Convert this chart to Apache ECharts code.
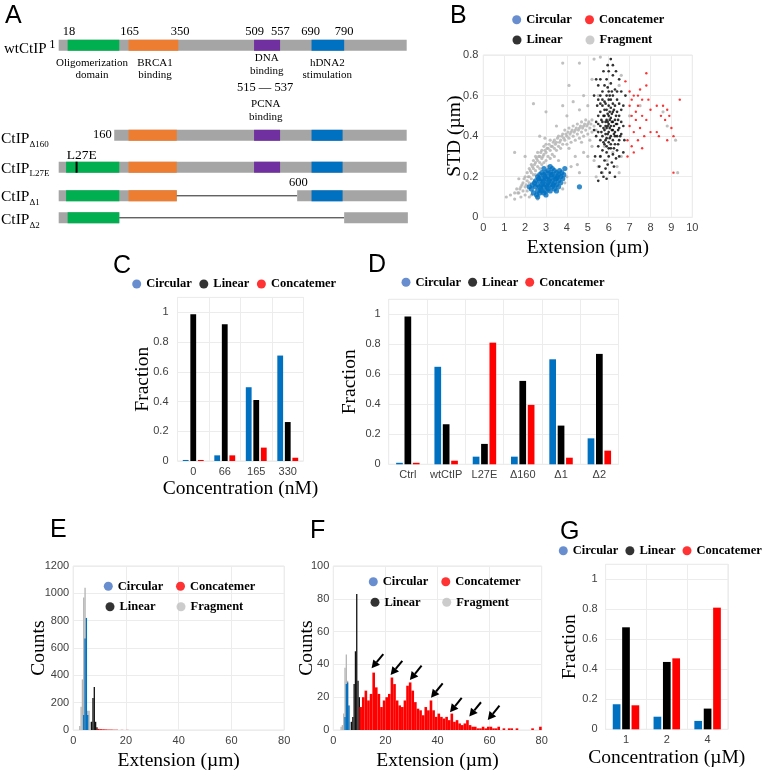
<!DOCTYPE html>
<html><head><meta charset="utf-8">
<script src="https://cdn.jsdelivr.net/npm/echarts@6/dist/echarts.min.js"></script>
<style>html,body{margin:0;padding:0;background:#fff}#c{width:762px;height:773px}</style>
</head><body><div id="c"></div><script>
// ---------- Panel A: domain maps (positions in drawn residue units) ----------
const rowLabels = ['wtCtIP', 'Δ160', 'L27E', 'Δ1', 'Δ2'];
const segWt   = [['gray',1,897],['oligo',24,157],['brca',181,309],['dna',504,571],['hdna',652,736]];
const segD160 = [['gray',144,897],['brca',181,305],['dna',504,571],['hdna',652,732]];
const segL27E = [['gray',1,897],['oligo',20,157],['brca',181,305],['dna',504,571],['hdna',652,732],['mark',47,47]];
const segD1   = [['gray',1,305],['oligo',20,157],['brca',181,305],['line',305,615],['gray',615,897],['hdna',652,732]];
const segD2   = [['gray',1,157],['oligo',24,157],['line',157,736],['gray',736,900]];
const domainNumbers = ['18','165','350','509','557','690','790'];

// ---------- Panel B: scatter (Extension µm, STD µm) ----------
const bCircular = [[2.3,0.14],[2.4,0.12],[2.5,0.15],[2.5,0.18],[2.6,0.13],[2.6,0.16],[2.6,0.2],[2.7,0.12],[2.7,0.15],[2.7,0.18],[2.7,0.21],[2.8,0.13],[2.8,0.16],[2.8,0.19],[2.8,0.22],[2.9,0.12],[2.9,0.15],[2.9,0.18],[2.9,0.21],[3.0,0.13],[3.0,0.16],[3.0,0.19],[3.0,0.22],[3.1,0.14],[3.1,0.17],[3.1,0.2],[3.1,0.23],[3.2,0.13],[3.2,0.16],[3.2,0.19],[3.2,0.22],[3.3,0.15],[3.3,0.18],[3.3,0.21],[3.3,0.24],[3.4,0.14],[3.4,0.17],[3.4,0.2],[3.4,0.23],[3.5,0.16],[3.5,0.19],[3.5,0.22],[3.6,0.15],[3.6,0.18],[3.6,0.21],[3.7,0.17],[3.7,0.2],[3.8,0.19],[2.45,0.17],[2.55,0.11],[2.65,0.19],[2.75,0.14],[2.85,0.17],[2.95,0.2],[3.05,0.15],[3.15,0.18],[3.25,0.21],[3.35,0.16],[3.45,0.19],[3.55,0.2],[3.65,0.23],[2.35,0.16],[3.75,0.22],[3.85,0.21],[2.2,0.15],[3.9,0.24],[2.9,0.24],[3.2,0.25],[2.6,0.1],[3.0,0.11],[3.5,0.13],[4.6,0.15]];
const bFragment = [[1.1,0.1],[1.3,0.11],[1.5,0.12],[1.5,0.09],[1.6,0.14],[1.7,0.12],[1.8,0.15],[1.8,0.1],[1.9,0.17],[1.9,0.13],[2.0,0.2],[2.0,0.15],[2.0,0.11],[2.1,0.18],[2.1,0.22],[2.1,0.13],[2.2,0.2],[2.2,0.24],[2.2,0.17],[2.3,0.22],[2.3,0.26],[2.3,0.19],[2.4,0.24],[2.4,0.28],[2.4,0.21],[2.5,0.23],[2.5,0.27],[2.5,0.3],[2.6,0.25],[2.6,0.28],[2.6,0.32],[2.7,0.24],[2.7,0.27],[2.7,0.3],[2.8,0.26],[2.8,0.29],[2.8,0.33],[2.9,0.27],[2.9,0.31],[2.9,0.35],[3.0,0.28],[3.0,0.32],[3.0,0.36],[3.1,0.3],[3.1,0.34],[3.2,0.29],[3.2,0.33],[3.2,0.38],[3.3,0.31],[3.3,0.35],[3.4,0.3],[3.4,0.34],[3.4,0.38],[3.5,0.33],[3.5,0.37],[3.6,0.35],[3.6,0.4],[3.7,0.34],[3.7,0.38],[3.8,0.36],[3.8,0.41],[3.9,0.38],[3.9,0.43],[4.0,0.36],[4.0,0.4],[4.1,0.39],[4.1,0.44],[4.2,0.37],[4.2,0.42],[4.3,0.4],[4.3,0.45],[4.4,0.38],[4.4,0.43],[4.5,0.41],[4.5,0.46],[4.6,0.39],[4.6,0.44],[4.7,0.42],[4.7,0.47],[4.8,0.4],[4.8,0.45],[4.9,0.43],[4.9,0.48],[5.0,0.41],[5.0,0.46],[5.1,0.44],[5.2,0.42],[5.2,0.48],[5.3,0.45],[5.4,0.43],[2.3,0.11],[2.2,0.1],[2.6,0.09],[3.8,0.14],[3.9,0.17],[4.0,0.2],[4.2,0.25],[4.4,0.3],[4.5,0.26],[4.8,0.32],[5.0,0.3],[5.2,0.35],[5.3,0.28],[5.5,0.25],[5.6,0.3],[5.7,0.22],[5.8,0.35],[5.9,0.28],[6.2,0.32],[6.4,0.25],[6.6,0.3],[6.5,0.22],[5.4,0.2],[4.6,0.22],[2.0,0.3],[2.4,0.56],[2.7,0.4],[3.0,0.52],[3.5,0.45],[3.8,0.55],[4.0,0.5],[4.1,0.65],[4.3,0.57],[4.6,0.53],[4.8,0.6],[5.0,0.55],[5.2,0.68],[5.3,0.78],[5.6,0.79],[4.6,0.76],[3.8,0.76],[5.5,0.6],[6.5,0.65],[6.6,0.7],[7.0,0.5],[7.5,0.55],[8.6,0.52],[9.2,0.38],[9.3,0.22],[8.8,0.45],[1.5,0.32],[1.7,0.19],[3.1,0.25],[2.95,0.39],[2.05,0.16],[2.15,0.2],[2.25,0.23],[2.35,0.25],[2.45,0.26],[2.55,0.29],[2.65,0.3],[2.75,0.32],[2.85,0.3],[2.95,0.33],[3.05,0.34],[3.15,0.36],[3.25,0.35],[3.35,0.37],[3.45,0.36],[3.55,0.39],[3.65,0.37],[3.75,0.4],[3.85,0.39],[3.95,0.41],[4.05,0.42],[4.15,0.41],[4.25,0.43],[4.35,0.42],[4.45,0.44],[4.55,0.43],[4.65,0.45],[4.75,0.44],[4.85,0.46],[4.95,0.45],[5.05,0.47],[5.15,0.46],[1.95,0.19],[1.85,0.16],[1.75,0.14],[1.65,0.12],[2.5,0.21],[3.6,0.28],[4.1,0.34],[4.7,0.37],[5.1,0.38]];
const bLinear = [[5.5,0.35],[5.5,0.42],[5.5,0.5],[5.5,0.58],[5.6,0.3],[5.6,0.38],[5.6,0.45],[5.6,0.52],[5.6,0.6],[5.7,0.33],[5.7,0.4],[5.7,0.47],[5.7,0.55],[5.7,0.62],[5.8,0.28],[5.8,0.36],[5.8,0.43],[5.8,0.5],[5.8,0.57],[5.8,0.65],[5.9,0.32],[5.9,0.39],[5.9,0.44],[5.9,0.48],[5.9,0.53],[5.9,0.6],[5.9,0.68],[6.0,0.3],[6.0,0.37],[6.0,0.42],[6.0,0.46],[6.0,0.5],[6.0,0.55],[6.0,0.62],[6.0,0.72],[6.1,0.34],[6.1,0.4],[6.1,0.45],[6.1,0.49],[6.1,0.54],[6.1,0.58],[6.1,0.66],[6.2,0.31],[6.2,0.38],[6.2,0.43],[6.2,0.47],[6.2,0.52],[6.2,0.6],[6.2,0.7],[6.3,0.36],[6.3,0.42],[6.3,0.48],[6.3,0.55],[6.3,0.63],[6.4,0.33],[6.4,0.4],[6.4,0.46],[6.4,0.52],[6.4,0.58],[6.5,0.38],[6.5,0.44],[6.5,0.5],[6.5,0.56],[6.6,0.41],[6.6,0.47],[6.6,0.53],[6.7,0.45],[5.4,0.4],[5.4,0.47],[5.3,0.43],[5.45,0.55],[5.55,0.25],[5.65,0.22],[5.75,0.2],[5.85,0.24],[5.95,0.26],[6.05,0.22],[6.15,0.27],[6.25,0.25],[6.35,0.29],[5.5,0.65],[5.6,0.68],[5.75,0.72],[5.95,0.75],[6.1,0.78],[6.2,0.75],[6.35,0.72],[6.5,0.68],[6.6,0.62],[6.7,0.55],[6.75,0.38],[6.7,0.32],[5.35,0.3],[5.3,0.6],[5.4,0.68],[5.85,0.47],[5.95,0.41],[6.05,0.48],[6.15,0.43],[6.05,0.39],[5.95,0.51],[6.15,0.51],[6.25,0.45],[5.85,0.41],[5.75,0.5],[6.35,0.5],[6.45,0.43],[5.65,0.42],[5.9,0.35],[6.1,0.36],[6.3,0.4],[5.8,0.53],[6.2,0.56],[6.0,0.58],[5.7,0.58],[6.4,0.62],[5.6,0.56],[5.5,0.46],[6.55,0.4],[5.9,0.19],[6.3,0.2],[5.5,0.18],[6.8,0.6],[6.5,0.3],[6.0,0.34],[5.85,0.45],[5.95,0.45],[6.05,0.44],[6.15,0.47],[5.95,0.47],[6.05,0.52],[5.85,0.38],[6.25,0.41],[5.75,0.44],[6.35,0.46],[5.65,0.48],[6.45,0.48],[5.85,0.56],[6.25,0.53],[6.05,0.6],[5.95,0.64],[6.15,0.62],[5.75,0.37],[6.45,0.36],[6.25,0.34]];
const bConcat = [[6.9,0.3],[6.9,0.38],[7.0,0.45],[7.0,0.55],[7.0,0.62],[7.1,0.5],[7.1,0.35],[7.2,0.6],[7.2,0.42],[7.3,0.52],[7.3,0.48],[7.4,0.38],[7.4,0.55],[7.5,0.63],[7.5,0.44],[7.6,0.5],[7.6,0.58],[7.7,0.4],[7.8,0.71],[7.8,0.65],[7.8,0.48],[7.9,0.58],[8.0,0.53],[8.0,0.42],[8.3,0.55],[8.3,0.42],[8.4,0.4],[8.5,0.5],[8.6,0.55],[8.7,0.48],[8.8,0.38],[8.9,0.5],[9.0,0.44],[9.1,0.4],[9.1,0.22],[9.4,0.58],[6.8,0.67],[7.2,0.32],[7.4,0.6],[8.8,0.53],[7.1,0.58],[7.6,0.34]];

// ---------- Panel C ----------
const cCats = ['0','66','165','330'];
const cCircular = [0.007,0.038,0.496,0.709];
const cLinear   = [0.987,0.919,0.41,0.262];
const cConcat   = [0.007,0.038,0.09,0.022];

// ---------- Panel D ----------
const dCats = ['Ctrl','wtCtIP','L27E','Δ160','Δ1','Δ2'];
const dCircular = [0.01,0.65,0.051,0.051,0.70,0.173];
const dLinear   = [0.985,0.267,0.136,0.556,0.258,0.736];
const dConcat   = [0.01,0.024,0.811,0.396,0.044,0.091];

// ---------- Panel E (bin centre µm, counts) ----------
const eFragment = [[2.5,30],[3,170],[3.5,370],[4,970],[4.5,1040],[5,240],[5.5,140],[6,140],[6.5,60],[7,20]];
const eCircular = [[4,110],[4.5,670],[5,820],[5.5,110]];
const eLinear   = [[7,60],[7.5,235],[8,315],[8.5,60],[9,20]];
const eConcat   = [[9.5,8],[10.5,6],[11.5,5],[12.5,4],[13.5,3],[14.5,3],[15.5,2],[16.5,2],[18.5,1],[20.5,1]];

// ---------- Panel F ----------
const fFragment = [[3,2],[3.5,3],[4,10],[4.5,38],[5,46],[5.5,30],[6,15],[6.5,5],[7,2]];
const fCircular = [[4.5,8],[5,28],[5.5,29],[6,15]];
const fLinear   = [[7,5],[7.5,8],[8,28],[8.5,48],[9,83],[9.5,30],[10,20]];
const fConcat   = [[10.5,14],[11.5,20],[12.5,24],[13.5,18],[14.5,22],[15.5,35],[16.5,26],[17.5,22],[18.5,14],[19.5,18],[20.5,20],[21.5,22],[22.5,32],[23.5,28],[24.5,18],[25.5,15],[26.5,14],[27.5,18],[28.5,27],[29.5,29],[30.5,24],[31.5,17],[32.5,13],[33.5,12],[34.5,9],[35.5,14],[36.5,12],[37.5,18],[38.5,12],[39.5,8],[40.5,10],[41.5,8],[42.5,7],[43.5,8],[44.5,6],[45.5,10],[46.5,5],[47.5,6],[48.5,4],[49.5,3],[50.5,4],[51.5,6],[52.5,3],[53.5,2],[54.5,2],[55.5,1],[56.5,1],[57.5,2],[58.5,1],[59.5,2],[60.5,2],[61.5,1],[62.5,1],[63.5,2],[65.5,1],[67.5,1],[68.5,1],[70.5,1],[76.5,1],[79.5,2]];
const fArrowTips = [[14.7,37.6],[22.0,33.5],[29.4,30.5],[37.5,19.7],[44.8,10.8],[52.2,8.2],[59.3,6.1]];

// ---------- Panel G ----------
const gCats = ['1','2','4'];
const gCircular = [0.167,0.084,0.056];
const gLinear   = [0.68,0.449,0.138];
const gConcat   = [0.16,0.473,0.811];

// ================= styling / layout =================
const SERIF = 'Liberation Serif', SANS = 'Liberation Sans';
const COL = {circ:'#0070C0', lin:'#000000', con:'#FF0000', frag:'#ADADAD'};
const segKinds = ['gray','oligo','brca','dna','hdna','line','mark'];
const segColors = {gray:'#A5A5A5', oligo:'#00B050', brca:'#ED7D31', dna:'#7030A0', hdna:'#0070C0'};
const rowCenters = [45.3, 135.3, 167.2, 195.8, 217.8];
const segSets = [segWt, segD160, segL27E, segD1, segD2];

const chart = echarts.init(document.getElementById('c'), null, {renderer:'canvas'});

const grids = [], xAxes = [], yAxes = [], series = [];
segSets.forEach((s, i) => {
  grids.push({left:58.3, top:rowCenters[i]-5.5, width:388.4, height:11, outerBoundsMode:'none'});
  xAxes.push({type:'value', gridIndex:i, min:0, max:1000, show:false});
  yAxes.push({type:'value', gridIndex:i, min:0, max:1, show:false});
  series.push({type:'custom', xAxisIndex:i, yAxisIndex:i, silent:true,
    encode:{x:[0,1], y:-1},
    data: s.map(d => [d[1], d[2], segKinds.indexOf(d[0])]),
    renderItem: (params, api) => {
      const k = segKinds[api.value(2)];
      const a = api.coord([api.value(0), 1]);
      const b = api.coord([api.value(1), 0]);
      if (k === 'line') { const ym = (a[1]+b[1])/2; return {type:'line', shape:{x1:a[0],y1:ym,x2:b[0],y2:ym}, style:{stroke:'#222', lineWidth:1}}; }
      if (k === 'mark') return {type:'rect', shape:{x:a[0]-1, y:a[1], width:2, height:b[1]-a[1]}, style:{fill:'#000'}};
      return {type:'rect', shape:{x:a[0], y:a[1], width:b[0]-a[0], height:b[1]-a[1]}, style:{fill:segColors[k]}};
    }});
});

const axLabel = {fontFamily:SANS, fontSize:11, color:'#404040', formatter: v => String(v)};
const nameStyle = {fontFamily:SERIF, fontSize:19.5, color:'#000'};
const split = {show:true, lineStyle:{color:'#ececec', width:1}};
const gridStyle = {show:true, borderColor:'#e6e6e6', borderWidth:1, backgroundColor:'transparent', outerBoundsMode:'none'};

function valX(gi, min, max, interval, name, gap, margin) {
  return {type:'value', gridIndex:gi, min, max, interval, name, nameLocation:'middle', nameGap:gap, nameMoveOverlap:false,
    nameTextStyle:nameStyle, axisLine:{show:false}, axisTick:{show:false},
    axisLabel:Object.assign({margin}, axLabel), splitLine:split};
}
function catX(gi, data, name, gap) {
  const lab = Object.assign({}, axLabel, {margin:5, interval:0}); delete lab.formatter;
  return {type:'category', gridIndex:gi, data, name, nameLocation:'middle', nameGap:gap, nameMoveOverlap:false,
    nameTextStyle:nameStyle, axisLine:{show:false}, axisTick:{show:false},
    axisLabel:lab, splitLine:split};
}
function valY(gi, min, max, interval, name, gap, margin, hideMax) {
  return {type:'value', gridIndex:gi, min, max, interval, name, nameLocation:'middle', nameGap:gap, nameMoveOverlap:false,
    nameTextStyle:nameStyle, axisLine:{show:false}, axisTick:{show:false},
    axisLabel:Object.assign({margin, showMaxLabel: !hideMax}, axLabel), splitLine:split};
}

// B (5)
grids.push(Object.assign({left:483.3, top:55, width:209, height:162.3}, gridStyle));
xAxes.push(valX(5, 0, 10, 1, 'Extension (µm)', 21, 5));
yAxes.push(valY(5, 0, 0.8, 0.2, 'STD (µm)', 18, 5));
// C (6)
grids.push(Object.assign({left:177.5, top:297.4, width:126, height:163.6}, gridStyle));
xAxes.push(catX(6, cCats, 'Concentration (nM)', 18));
yAxes.push(valY(6, 0, 1.1, 0.2, 'Fraction', 25, 9, true));
// D (7)
grids.push(Object.assign({left:388.7, top:299.3, width:229.8, height:165}, gridStyle));
xAxes.push(catX(7, dCats, '', 18));
yAxes.push(valY(7, 0, 1.1, 0.2, 'Fraction', 29, 8, true));
// E (8)
grids.push(Object.assign({left:73.2, top:566, width:211, height:164}, gridStyle));
xAxes.push(valX(8, 0, 80, 20, 'Extension (µm)', 21, 5));
yAxes.push(valY(8, 0, 1200, 200, 'Counts', 24, 4));
// F (9)
grids.push(Object.assign({left:333.3, top:566, width:208.4, height:164}, gridStyle));
xAxes.push(valX(9, 0, 80, 20, 'Extension (µm)', 21, 5));
yAxes.push(valY(9, 0, 100, 20, 'Counts', 16, 4));
// G (10)
grids.push(Object.assign({left:605.6, top:564.3, width:122.4, height:165}, gridStyle));
xAxes.push(catX(10, gCats, 'Concentration (µM)', 19));
yAxes.push(valY(10, 0, 1.1, 0.2, 'Fraction', 26, 8, true));

// B scatter
[['Fragment', bFragment, '#B0B0B0', 3.2], ['Circular', bCircular, COL.circ, 5.2], ['Linear', bLinear, COL.lin, 2.7], ['Concatemer', bConcat, COL.con, 2.4]]
  .forEach(([n, d, c, s]) => series.push({type:'scatter', name:n, xAxisIndex:5, yAxisIndex:5, data:d, symbolSize:s, itemStyle:{color:c}, silent:true}));

// Bar panels
function bars(ax, vals, width, gap) {
  [['Circular', vals[0], COL.circ], ['Linear', vals[1], COL.lin], ['Concatemer', vals[2], COL.con]].forEach(([n, d, c]) =>
    series.push({type:'bar', name:n, xAxisIndex:ax, yAxisIndex:ax, data:d, barWidth:width, barGap:gap, itemStyle:{color:c}, silent:true}));
}
bars(6, [cCircular, cLinear, cConcat], 5.8, '30%');
bars(7, [dCircular, dLinear, dConcat], 6.7, '25%');
bars(10, [gCircular, gLinear, gConcat], 7.7, '22%');

// Histograms
function hist(ax, name, data, binW, color) {
  series.push({type:'custom', name, xAxisIndex:ax, yAxisIndex:ax, data, silent:true,
    encode:{x:0, y:1}, itemStyle:{color}, clip:true,
    renderItem: (params, api) => {
      const x = api.value(0), c = api.value(1);
      const p0 = api.coord([x - binW/2, c]), p1 = api.coord([x + binW/2, 0]);
      return {type:'rect', shape:{x:p0[0], y:p0[1], width:Math.max(p1[0]-p0[0], 1), height:p1[1]-p0[1]}, style:{fill:color}};
    }});
}
hist(8, 'Fragment', eFragment, 0.5, '#B4B4B4');
hist(8, 'Circular', eCircular, 0.5, COL.circ);
hist(8, 'Linear', eLinear, 0.5, '#111');
hist(8, 'Concatemer', eConcat, 1, COL.con);
hist(9, 'Fragment', fFragment, 0.5, '#B4B4B4');
hist(9, 'Circular', fCircular, 0.5, COL.circ);
hist(9, 'Linear', fLinear, 0.5, '#111');
hist(9, 'Concatemer', fConcat, 1, COL.con);

// Arrows on F peaks
series.push({type:'custom', xAxisIndex:9, yAxisIndex:9, data:fArrowTips, silent:true, encode:{x:0, y:1}, z:5,
  renderItem: (params, api) => {
    const t = api.coord([api.value(0), api.value(1)]);
    const dx = 11.7, dy = -14.3, L = Math.hypot(dx, dy), ux = dx/L, uy = dy/L;
    const hl = 8, hw = 4.3, bx = t[0]+ux*hl, by = t[1]+uy*hl, px = -uy, py = ux;
    return {type:'group', children:[
      {type:'line', shape:{x1:bx, y1:by, x2:t[0]+dx, y2:t[1]+dy}, style:{stroke:'#000', lineWidth:2}},
      {type:'polygon', shape:{points:[[t[0],t[1]],[bx+px*hw,by+py*hw],[bx-px*hw,by-py*hw]]}, style:{fill:'#000'}}
    ]};
  }});

// Legends
const LEGCOL = {Circular:'#4472C4', Concatemer:'#FF0000', Linear:'#000000', Fragment:'#BFBFBF'};
function leg(names, left, cy, gap) {
  return {data:names.map(n => ({name:n, itemStyle:{color:LEGCOL[n]}})), left, top:cy-7.5, width:400, orient:'horizontal',
    icon:'circle', itemWidth:9, itemHeight:9, itemGap:gap, padding:0, selectedMode:false,
    textStyle:{fontFamily:SERIF, fontWeight:'bold', fontSize:12.5, color:'#000'}};
}
const legends = [
  leg(['Circular','Concatemer'], 512.2, 20.7, 13.2), leg(['Linear','Fragment'], 512.5, 41, 22.9),
  leg(['Circular','Linear','Concatemer'], 132.2, 285, 7.5),
  leg(['Circular','Linear','Concatemer'], 401.5, 283.3, 7),
  leg(['Circular','Concatemer'], 103.8, 587.3, 12.6), leg(['Linear','Fragment'], 105.5, 607.7, 20.9),
  leg(['Circular','Concatemer'], 368.8, 582.7, 12.9), leg(['Linear','Fragment'], 370.5, 603.3, 21.6),
  leg(['Circular','Linear','Concatemer'], 558.8, 551.7, 7)
];

// Text annotations
function T(text, x, y, size, align, extra) {
  return {type:'text', x, y, silent:true, style:Object.assign({text, fontSize:size, fontFamily:SERIF, fill:'#000', align:align||'center', verticalAlign:'middle'}, extra||{})};
}
function L(letter, x, y) { return T(letter, x, y, 25, 'left', {fontFamily:SANS}); }
const numX = [69, 129.5, 180, 254.5, 280.3, 310.5, 344];
const subRich = {a:{fontSize:15.5, fontFamily:SERIF, lineHeight:20}, s:{fontSize:9, fontFamily:SERIF, verticalAlign:'bottom', lineHeight:12}};
const graphics = [
  L('A', 5, 16), L('B', 450, 16), L('C', 113, 266), L('D', 368, 265), L('E', 50, 530), L('F', 310, 531), L('G', 560, 532),
  T('1', 52.3, 45, 12.5),
  ...domainNumbers.map((n, i) => T(n, numX[i], 32, 12.5)),
  T('Oligomerization\ndomain', 92, 69, 11, 'center', {lineHeight:12.6}),
  T('BRCA1\nbinding', 155, 69, 11, 'center', {lineHeight:12.6}),
  T('DNA\nbinding', 266.7, 64.2, 11, 'center', {lineHeight:13}),
  T('hDNA2\nstimulation', 327.3, 69, 11, 'center', {lineHeight:12.6}),
  T('515 — 537', 265, 87.7, 12.5),
  T('PCNA\nbinding', 265.7, 110.3, 11, 'center', {lineHeight:12.7}),
  T('160', 111.7, 135, 12.5, 'right'),
  T('L27E', 66.7, 155, 13.5, 'left'),
  T('600', 298.3, 182.3, 12.5),
  T(rowLabels[0], 4, 49, 15, 'left'),
  T('{a|CtIP}{s|' + rowLabels[1] + '}', 1, 138.7, 15.5, 'left', {rich:subRich}),
  T('{a|CtIP}{s|' + rowLabels[2] + '}', 1, 168.5, 15.5, 'left', {rich:subRich}),
  T('{a|CtIP}{s|' + rowLabels[3] + '}', 1, 197, 15.5, 'left', {rich:subRich}),
  T('{a|CtIP}{s|' + rowLabels[4] + '}', 1, 220, 15.5, 'left', {rich:subRich})
];

chart.setOption({
  animation:false,
  backgroundColor:'#fff',
  grid:grids, xAxis:xAxes, yAxis:yAxes, series, legend:legends, graphic:graphics
});
</script></body></html>
